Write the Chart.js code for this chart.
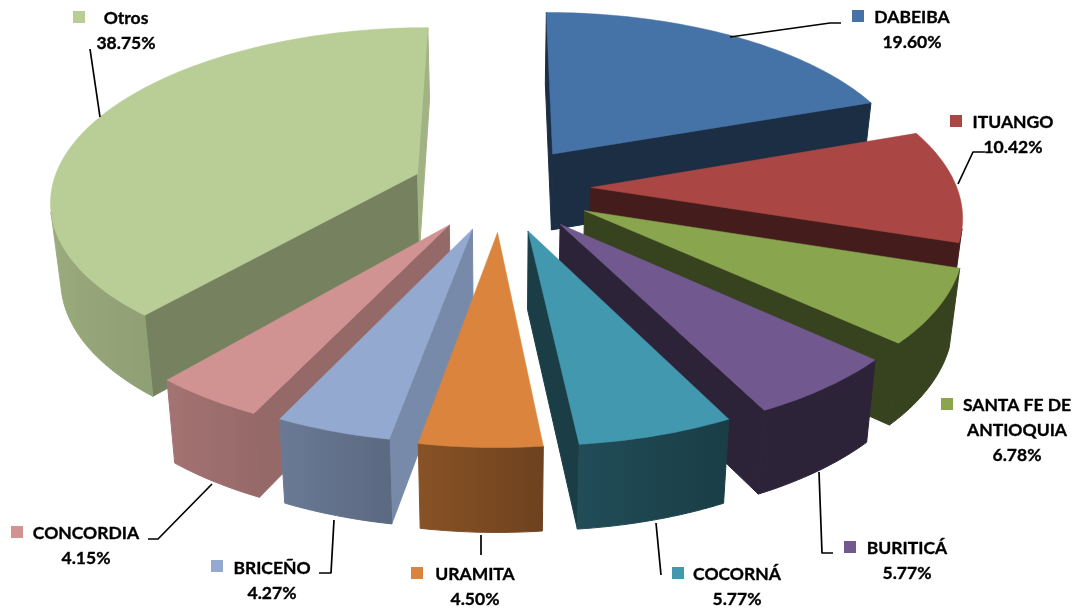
<!DOCTYPE html>
<html>
<head>
<meta charset="utf-8">
<title>Pie</title>
<style>
  html, body { margin: 0; padding: 0; background: #fff; }
  canvas { display: block; }
</style>
<script src="https://cdn.jsdelivr.net/npm/chart.js@4"></script>
</head>
<body>
<canvas id="pie" width="1078" height="610"></canvas>
<script>
/* =================================
  data
==================================== */
const categories = ['DABEIBA', 'ITUANGO', 'SANTA FE DE ANTIOQUIA', 'BURITICÁ', 'COCORNÁ', 'URAMITA', 'BRICEÑO', 'CONCORDIA', 'Otros'];
const shares = [19.60, 10.42, 6.78, 5.77, 5.77, 4.50, 4.27, 4.15, 38.75];
const colors = ['#4572A7', '#AA4643', '#89A54E', '#71588F', '#4198AF', '#DB843D', '#93A9CF', '#D19392', '#B9CD96'];

/* =================================
  3d look
==================================== */
const radius = 366;
const explode = [92, 90, 95, 95, 93, 92, 90, 92, 90];
const tilt = 0.466;
const perspective = 0.142;
const depth = 77;
const bottomShrink = 0.977;

// brightness of the outer wall by angle (clockwise from the top)
const wallLight = [[0, .4], [153, .4], [174, .5], [190, .62], [205, .72], [220, .78], [270, .87], [360, .87]];
// brightness of the flat cut faces by direction they look at
const faceLight = [[0, .41], [85, .41], [90, .87], [100, .82], [115, .72], [130, .64], [160, .4], [360, .4]];

function lookup(table, deg) {
    deg = ((deg % 360) + 360) % 360;
    for (let i = 1; i < table.length; i++) {
        if (deg <= table[i][0]) {
            const a = table[i - 1], b = table[i];
            return a[1] + (b[1] - a[1]) * (deg - a[0]) / (b[0] - a[0]);
        }
    }
    return table[table.length - 1][1];
}

function shade(hex, f) {
    const n = parseInt(hex.slice(1), 16);
    return `rgb(${Math.round((n >> 16) * f)},${Math.round(((n >> 8) & 255) * f)},${Math.round((n & 255) * f)})`;
}

// negative area = the side looks towards us
function facesUs(a, b) {
    const pts = [a.top, b.top, b.low, a.low];
    let area = 0;
    for (let i = 0; i < 4; i++) {
        const p = pts[i], q = pts[(i + 1) % 4];
        area += p[0] * q[1] - q[0] * p[1];
    }
    return area < 0;
}

function fillPath(ctx, pts, fill, edge) {
    ctx.fillStyle = fill;
    ctx.strokeStyle = fill;
    ctx.lineWidth = edge;
    ctx.lineJoin = 'round';
    ctx.beginPath();
    pts.forEach((p, i) => i ? ctx.lineTo(p[0], p[1]) : ctx.moveTo(p[0], p[1]));
    ctx.closePath();
    ctx.fill();
    ctx.stroke();
}

function drawWall(ctx, run, color) {
    const x0 = run[0].top[0], x1 = run[run.length - 1].top[0];
    const grad = ctx.createLinearGradient(x0, 0, x1, 0);
    run.forEach(p => {
        const t = Math.min(1, Math.max(0, (p.top[0] - x0) / (x1 - x0)));
        grad.addColorStop(t, shade(color, lookup(wallLight, p.deg)));
    });
    const pts = run.map(p => p.top).concat(run.map(p => p.low).reverse());
    fillPath(ctx, pts, grad, 1);
}

function drawSlice(ctx, arc) {
    const off = arc.options.offset;
    const mid = (arc.startAngle + arc.endAngle) / 2;
    const ox = Math.cos(mid) * off, oy = Math.sin(mid) * off;
    const color = arc.options.backgroundColor;

    const project = (x, y) => {
        const w = 1 - perspective * y / radius;
        return {
            top: [arc.x + x / w, arc.y + tilt * y / w],
            low: [arc.x + bottomShrink * x / w, arc.y + tilt * y / w + depth / Math.sqrt(w)]
        };
    };
    const tip = project(ox, oy);
    const rim = [];
    const steps = Math.max(2, Math.ceil((arc.endAngle - arc.startAngle) / 0.02));
    for (let i = 0; i <= steps; i++) {
        const a = arc.startAngle + (arc.endAngle - arc.startAngle) * i / steps;
        const p = project(ox + Math.cos(a) * arc.outerRadius, oy + Math.sin(a) * arc.outerRadius);
        p.deg = a * 180 / Math.PI + 90;
        rim.push(p);
    }

    // flat cut faces
    if (facesUs(tip, rim[0])) {
        fillPath(ctx, [tip.top, rim[0].top, rim[0].low, tip.low], shade(color, lookup(faceLight, rim[0].deg - 90)), 1);
    }
    if (facesUs(rim[steps], tip)) {
        fillPath(ctx, [rim[steps].top, tip.top, tip.low, rim[steps].low], shade(color, lookup(faceLight, rim[steps].deg + 90)), 1);
    }
    // outer wall, only the run of segments we can see
    let run = [];
    for (let i = 0; i < steps; i++) {
        if (facesUs(rim[i], rim[i + 1])) {
            if (!run.length) run.push(rim[i]);
            run.push(rim[i + 1]);
        } else if (run.length) {
            drawWall(ctx, run, color);
            run = [];
        }
    }
    if (run.length) drawWall(ctx, run, color);
    // top
    fillPath(ctx, [tip.top].concat(rim.map(p => p.top)), color, 0.5);
}

const pie3d = {
    id: 'pie3d',
    beforeDatasetDraw(chart, args) {
        const ctx = chart.ctx;
        const arcs = args.meta.data.slice();
        // back slices first
        arcs.sort((a, b) => Math.sin((a.startAngle + a.endAngle) / 2) - Math.sin((b.startAngle + b.endAngle) / 2));
        arcs.forEach(arc => drawSlice(ctx, arc));
        return false;
    }
};

/* =================================
  labels
==================================== */
// key = left/top of the square, lines = text lines, text x is the centre
const labelSpots = [
    { key: [852, 10], x: 912, y: 17, lines: ['DABEIBA'], leader: [[730, 37], [830, 23], [841, 23]] },
    { key: [950, 115], x: 1013, y: 122, lines: ['ITUANGO'], leader: [[958, 184], [973, 152], [985, 152]] },
    { key: [941, 398], x: 1017, y: 405, lines: ['SANTA FE DE', 'ANTIOQUIA'], leader: null },
    { key: [844, 541], x: 907, y: 548, lines: ['BURITICÁ'], leader: [[819, 472], [822, 553], [833, 553]] },
    { key: [672, 567], x: 737, y: 574, lines: ['COCORNÁ'], leader: [[656, 523], [661, 575]] },
    { key: [411, 567], x: 475, y: 574, lines: ['URAMITA'], leader: [[481, 535], [481, 555]] },
    { key: [211, 560], x: 272, y: 568, lines: ['BRICEÑO'], leader: [[334, 520], [331, 573], [319, 573]] },
    { key: [11, 526], x: 86, y: 533, lines: ['CONCORDIA'], leader: [[212, 484], [158, 539], [148, 539]] },
    { key: [73, 11], x: 126, y: 18, lines: ['Otros'], leader: [[100, 117], [90, 49]] }
];

const pieLabels = {
    id: 'pieLabels',
    afterDraw(chart) {
        const ctx = chart.ctx;
        ctx.save();
        ctx.font = 'bold 17.5px Lato';
        ctx.textAlign = 'center';
        ctx.textBaseline = 'middle';
        labelSpots.forEach((spot, i) => {
            if (spot.leader) {
                ctx.strokeStyle = '#000';
                ctx.lineWidth = 1.7;
                ctx.beginPath();
                spot.leader.forEach((p, n) => n ? ctx.lineTo(p[0], p[1]) : ctx.moveTo(p[0], p[1]));
                ctx.stroke();
            }
            ctx.fillStyle = colors[i];
            ctx.fillRect(spot.key[0], spot.key[1], 12, 12);
            ctx.fillStyle = '#000';
            ctx.strokeStyle = '#000';
            ctx.lineWidth = 0.35;
            const lines = spot.lines.concat(shares[i].toFixed(2) + '%');
            lines.forEach((line, n) => {
                ctx.fillText(line, spot.x, spot.y + n * 25);
                ctx.strokeText(line, spot.x, spot.y + n * 25);
            });
        });
        ctx.restore();
    }
};

/* =================================
  pie chart
==================================== */
let pieChart = new Chart(document.getElementById('pie'), {
    type: 'pie',
    data: {
        labels: categories,
        datasets: [{
            data: shares,
            backgroundColor: colors,
            borderWidth: 0,
            offset: explode,
            radius: radius
        }]
    },
    options: {
        responsive: false,
        animation: false,
        // pushes the pie centre to where the picture has it
        layout: { padding: { right: 76, bottom: 234 } },
        plugins: {
            legend: { display: false },
            tooltip: { enabled: false }
        }
    },
    plugins: [pie3d, pieLabels]
});
</script>
</body>
</html>
